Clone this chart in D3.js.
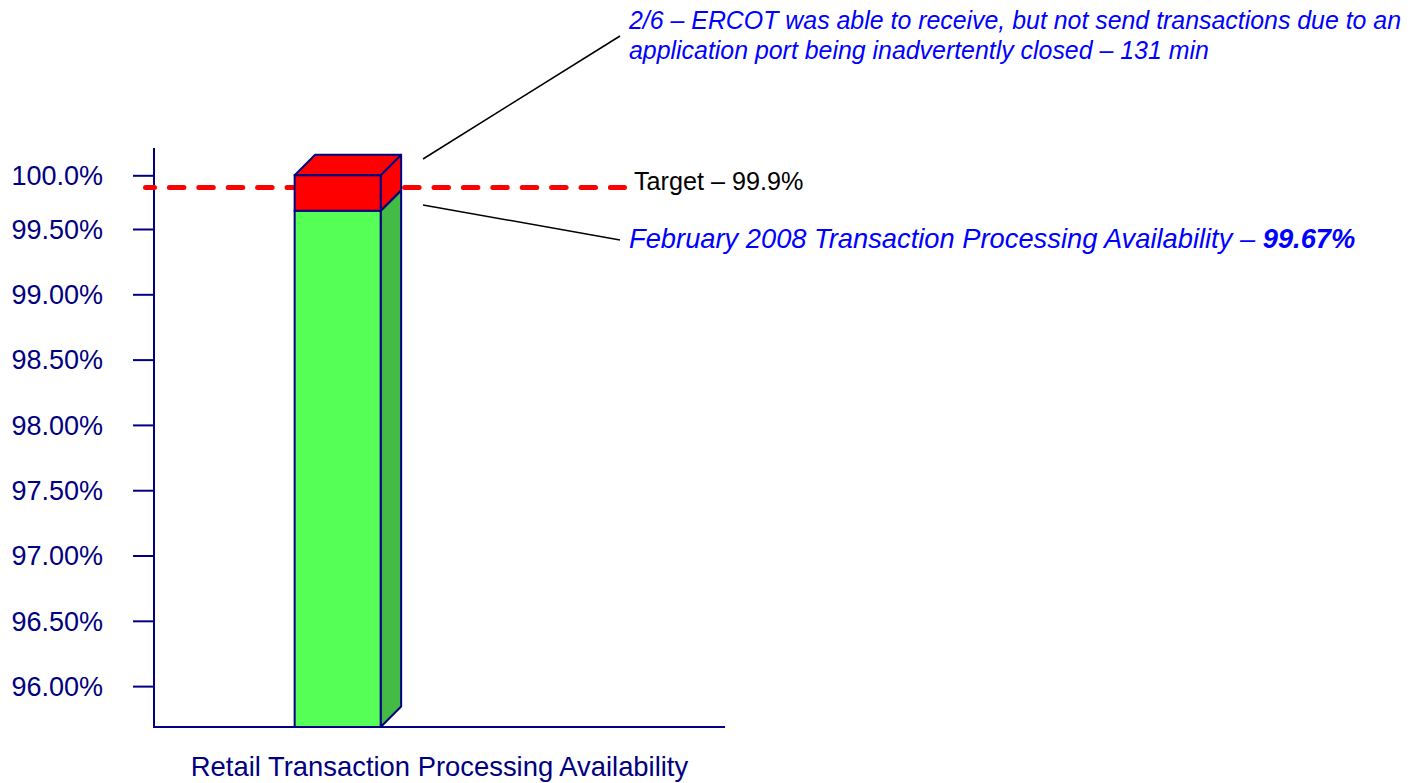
<!DOCTYPE html>
<html>
<head>
<meta charset="utf-8">
<script src="https://cdn.jsdelivr.net/npm/d3@7"></script>
<style>
  html, body { margin: 0; padding: 0; background: #fff; }
</style>
</head>
<body>
<div id="chart"></div>
<script>
const categories = ["Retail Transaction Processing Availability"];
const availability = [99.67];
const totalMax = [100];
const target = 99.9;
const tickValues = [96, 96.5, 97, 97.5, 98, 98.5, 99, 99.5, 100];
const tickLabels = ["96.00%", "96.50%", "97.00%", "97.50%", "98.00%", "98.50%", "99.00%", "99.50%", "100.0%"];
const noteLines = [
  "2/6 – ERCOT was able to receive, but not send transactions due to an",
  "application port being inadvertently closed – 131 min"
];
const targetLabel = "Target – 99.9%";
const availLabel = "February 2008 Transaction Processing Availability – ";
const availValue = "99.67%";

const width = 1416;
const height = 783;
const navy = "#000080";
const blue = "#0000ff";
const frontGreen = "#55ff55";
const sideGreen = "#44bb44";
const red = "#ff0000";
const font = "'Liberation Sans', Arial, sans-serif";

const x0 = 154, x1 = 725, yBottom = 727;
const depth = 20.5;

const svg = d3.select("#chart")
  .append("svg")
  .attr("width", width)
  .attr("height", height)
  .style("font-family", font);

const x = d3.scaleBand()
  .domain(categories)
  .range([x0, x1])
  .paddingOuter(2.82)
  .align(0.29);

// axis is compressed above 99.5% as in the original slide
const y = d3.scaleLinear()
  .domain([95.687, 99.5, 100])
  .range([yBottom, 229, 175.3]);

// y axis
const yAxis = svg.append("g")
  .attr("transform", `translate(${x0},0)`)
  .call(d3.axisLeft(y)
    .tickValues(tickValues)
    .tickFormat((d, i) => tickLabels[i])
    .tickSize(21)
    .tickPadding(30));
yAxis.select(".domain").remove();
yAxis.selectAll(".tick line").attr("stroke", navy).attr("stroke-width", 2);
yAxis.selectAll(".tick text")
  .attr("fill", navy)
  .attr("font-size", "27px")
  .attr("font-family", font)
  .attr("dy", "0.34em");

svg.append("line")
  .attr("x1", x0).attr("x2", x0)
  .attr("y1", 148).attr("y2", yBottom + 1)
  .attr("stroke", navy).attr("stroke-width", 2);
svg.append("line")
  .attr("x1", x0 - 1).attr("x2", x1)
  .attr("y1", yBottom).attr("y2", yBottom)
  .attr("stroke", navy).attr("stroke-width", 2);

svg.append("text")
  .attr("x", (x0 + x1) / 2)
  .attr("y", 776)
  .attr("text-anchor", "middle")
  .attr("font-size", "27.4px")
  .attr("fill", navy)
  .text(categories[0]);

// target line
svg.append("line")
  .attr("x1", x0 - 8.5).attr("x2", 624.5)
  .attr("y1", y(target) + 1.5).attr("y2", y(target) + 1.5)
  .attr("stroke", red)
  .attr("stroke-width", 5)
  .attr("stroke-linecap", "round")
  .attr("stroke-dasharray", "14.5 14.9")
  .attr("stroke-dashoffset", 5.5);

svg.append("text")
  .attr("x", 634)
  .attr("y", y(target) + 4)
  .attr("font-size", "25.2px")
  .attr("fill", "#000")
  .text(targetLabel);

// 3D stacked bar
function box(g, xl, w, yTop, yBot, front, top, side, drawTop) {
  const xr = xl + w;
  g.append("path")
    .attr("d", `M${xr},${yBot} L${xr + depth},${yBot - depth} L${xr + depth},${yTop - depth} L${xr},${yTop} Z`)
    .attr("fill", side).attr("stroke", navy).attr("stroke-width", 2).attr("stroke-linejoin", "round");
  if (drawTop) {
    g.append("path")
      .attr("d", `M${xl},${yTop} L${xl + depth},${yTop - depth} L${xr + depth},${yTop - depth} L${xr},${yTop} Z`)
      .attr("fill", top).attr("stroke", navy).attr("stroke-width", 2).attr("stroke-linejoin", "round");
  }
  g.append("rect")
    .attr("x", xl).attr("y", yTop)
    .attr("width", w).attr("height", yBot - yTop)
    .attr("fill", front).attr("stroke", navy).attr("stroke-width", 2);
}

const bars = svg.append("g");
categories.forEach((c, i) => {
  const g = bars.append("g");
  box(g, x(c), x.bandwidth(), y(availability[i]), y(y.domain()[0]), frontGreen, frontGreen, sideGreen, false);
  box(g, x(c), x.bandwidth(), y(totalMax[i]), y(availability[i]), red, red, red, true);
});

// annotations
const lead = svg.append("g").attr("stroke", "#000").attr("stroke-width", 1.5);
lead.append("line").attr("x1", 423).attr("y1", 159).attr("x2", 620).attr("y2", 36);
lead.append("line").attr("x1", 423).attr("y1", 205).attr("x2", 620).attr("y2", 240);

svg.append("g")
  .selectAll("text")
  .data(noteLines)
  .join("text")
  .attr("x", 629)
  .attr("y", (d, i) => 28.5 + i * 30.5)
  .attr("font-size", "24.9px")
  .attr("font-style", "italic")
  .attr("fill", blue)
  .text(d => d);

const avail = svg.append("text")
  .attr("x", 629)
  .attr("y", 248)
  .attr("font-size", "27.3px")
  .attr("font-style", "italic")
  .attr("fill", blue);
avail.append("tspan").text(availLabel);
avail.append("tspan").attr("font-weight", "bold").text(availValue);
</script>
</body>
</html>
